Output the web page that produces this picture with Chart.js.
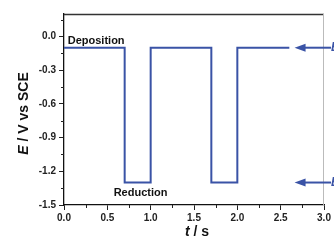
<!DOCTYPE html>
<html><head><meta charset="utf-8">
<script src="https://cdn.jsdelivr.net/npm/chart.js@4.4.1/dist/chart.umd.min.js"></script>
<style>html,body{margin:0;padding:0;background:#fff;}#wrap{width:334px;height:242px;}</style>
</head><body><div id="wrap"><canvas id="c" width="334" height="242"></canvas></div>
<script>
const times = [0, 0.7, 1.0, 1.7, 2.0, 2.6];
const potentials = [-0.1, -1.3, -0.1, -1.3, -0.1, -0.1];
const xTicks = [0.0, 0.5, 1.0, 1.5, 2.0, 2.5, 3.0];
const yTicks = [-1.5, -1.2, -0.9, -0.6, -0.3, 0.0];
const xMinor = [0.25, 0.75, 1.25, 1.75, 2.25, 2.75];
const yMinor = [-1.35, -1.05, -0.75, -0.45, -0.15, 0.15];
const arrowLevels = [-0.1, -1.3];
const arrowStart = 2.66;
const notes = [{text: 'Deposition', t: 0.02, e: -0.1, off: -7}, {text: 'Reduction', t: 0.55, e: -1.3, off: 10}];

const BLUE = '#3a53a6';
const FONT = '"Liberation Sans", Arial, sans-serif';

const deco = {
  id: 'deco',
  afterDraw(chart) {
    const {ctx, chartArea: a, scales: {x, y}} = chart;
    ctx.save();
    ctx.strokeStyle = '#333'; ctx.lineWidth = 1.3;
    ctx.beginPath(); ctx.moveTo(a.left, a.top + 0.5); ctx.lineTo(a.right, a.top + 0.5); ctx.stroke();
    ctx.strokeStyle = '#bbb'; ctx.lineWidth = 1;
    ctx.beginPath(); ctx.moveTo(a.right - 0.5, a.top); ctx.lineTo(a.right - 0.5, a.bottom); ctx.stroke();
    ctx.strokeStyle = '#222'; ctx.lineWidth = 1;
    xMinor.forEach(v => { const px = Math.round(x.getPixelForValue(v)) + 0.5; ctx.beginPath(); ctx.moveTo(px, a.bottom); ctx.lineTo(px, a.bottom + 3); ctx.stroke(); });
    yMinor.forEach(v => { const py = Math.round(y.getPixelForValue(v)) + 0.5; ctx.beginPath(); ctx.moveTo(a.left, py); ctx.lineTo(a.left - 3, py); ctx.stroke(); });
    ctx.fillStyle = '#111'; ctx.font = 'bold 11px ' + FONT; ctx.textBaseline = 'middle'; ctx.textAlign = 'left';
    notes.forEach(n => ctx.fillText(n.text, x.getPixelForValue(n.t) + 2, y.getPixelForValue(n.e) + n.off));
    ctx.strokeStyle = BLUE; ctx.fillStyle = BLUE; ctx.lineWidth = 2;
    arrowLevels.forEach(v => {
      const py = y.getPixelForValue(v);
      const tip = x.getPixelForValue(arrowStart);
      ctx.beginPath(); ctx.moveTo(tip + 8, py); ctx.lineTo(331, py); ctx.stroke();
      ctx.beginPath(); ctx.moveTo(tip, py); ctx.lineTo(tip + 11, py - 4); ctx.lineTo(tip + 11, py + 4); ctx.closePath(); ctx.fill();
      ctx.font = 'italic bold 12px ' + FONT; ctx.textAlign = 'left';
      ctx.fillText('E', 331, py);
    });
    ctx.fillStyle = '#111'; ctx.textBaseline = 'middle';
    const xt = (a.left + a.right) / 2;
    ctx.font = 'italic bold 14px ' + FONT;
    const w1 = ctx.measureText('t').width;
    ctx.font = 'bold 14px ' + FONT;
    const w2 = ctx.measureText(' / s').width;
    let sx = xt - (w1 + w2) / 2 + 3;
    ctx.textAlign = 'left';
    ctx.font = 'italic bold 14px ' + FONT; ctx.fillText('t', sx, 232);
    ctx.font = 'bold 14px ' + FONT; ctx.fillText(' / s', sx + w1, 232);
    ctx.translate(24, (a.top + a.bottom) / 2 + 4);
    ctx.rotate(-Math.PI / 2);
    ctx.font = 'italic bold 14px ' + FONT;
    const v1 = ctx.measureText('E').width;
    ctx.font = 'bold 14px ' + FONT;
    const v2 = ctx.measureText(' / V vs SCE').width;
    let sy = -(v1 + v2) / 2;
    ctx.font = 'italic bold 14px ' + FONT; ctx.fillText('E', sy, 0);
    ctx.font = 'bold 14px ' + FONT; ctx.fillText(' / V vs SCE', sy + v1, 0);
    ctx.restore();
  }
};

new Chart(document.getElementById('c'), {
  type: 'scatter',
  data: { datasets: [{ data: times.map((t, i) => ({x: t, y: potentials[i]})), showLine: true, stepped: 'before', borderColor: BLUE, borderWidth: 2, pointRadius: 0, fill: false }] },
  options: {
    responsive: false, animation: false, events: [],
    layout: { padding: { top: 14, right: 10, left: 0, bottom: 0 } },
    plugins: { legend: { display: false }, tooltip: { enabled: false } },
    scales: {
      x: {
        type: 'linear', min: 0, max: 3,
        afterBuildTicks: s => { s.ticks = xTicks.map(v => ({value: v})); },
        afterFit: s => { s.height = 37; },
        grid: { drawOnChartArea: false, drawTicks: true, tickLength: 5, color: '#222' },
        border: { color: '#111', width: 1.3 },
        ticks: { color: '#222', font: { family: FONT, size: 10, weight: 'bold' }, padding: 2, maxRotation: 0, callback: v => v.toFixed(1) }
      },
      y: {
        min: -1.5, max: 0.2,
        afterBuildTicks: s => { s.ticks = yTicks.map(v => ({value: v})); },
        afterFit: s => { s.width = 64; },
        grid: { drawOnChartArea: false, drawTicks: true, tickLength: 5, color: '#222' },
        border: { color: '#111', width: 1.3 },
        ticks: { color: '#222', font: { family: FONT, size: 10, weight: 'bold' }, padding: 3, callback: v => v.toFixed(1) }
      }
    }
  },
  plugins: [deco]
});
</script></body></html>
